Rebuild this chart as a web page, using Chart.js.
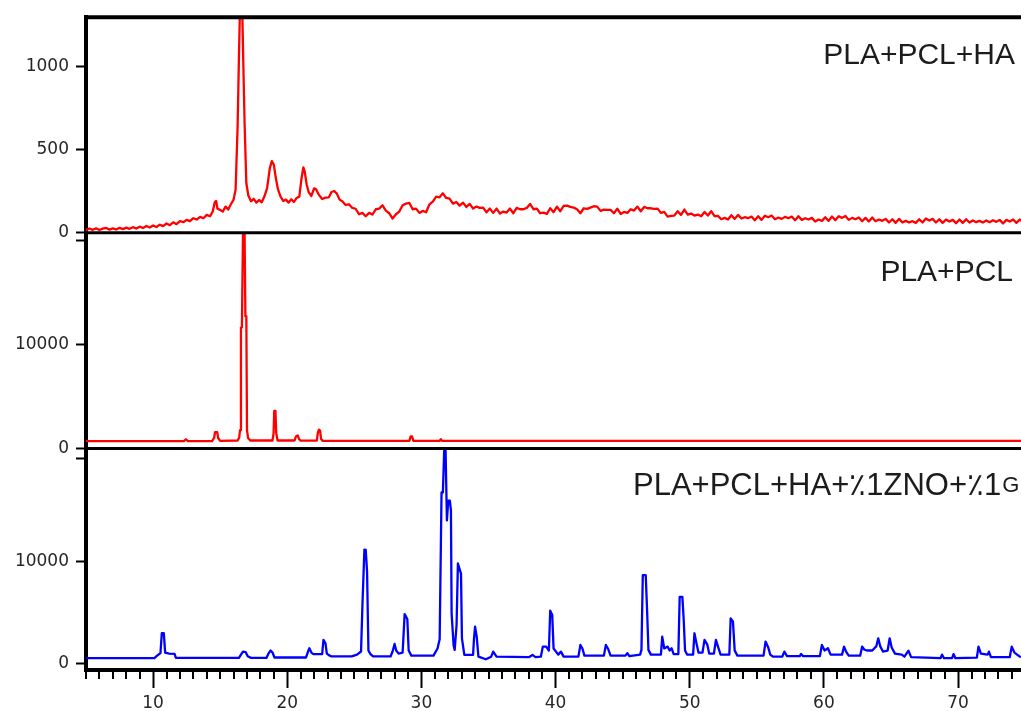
<!DOCTYPE html>
<html>
<head>
<meta charset="utf-8">
<script src="https://cdn.jsdelivr.net/npm/chart.js@4"></script>
<style>
  html, body { margin: 0; padding: 0; background: #fff; overflow: hidden; }
  #wrap { width: 1021px; height: 711px; overflow: hidden; }
  canvas { display: block; }
</style>
</head>
<body>
<div id="wrap"><canvas id="c" width="1057" height="711"></canvas></div>
<script>
// ---- Data (2θ in degrees, intensity in counts) ----
const panelLabels = ["PLA+PCL+HA", "PLA+PCL", "PLA+PCL+HA+٪1ZNO+٪1"];
const panelLabelTail = "Gr";
const xTickLabels = [10, 20, 30, 40, 50, 60, 70];
const topTicks = [0, 500, 1000];
const topTickLabels = [0, 500, 1000];
const midTicks = [0, 10000, 20000];
const midTickLabels = [0, 10000];
const botTicks = [0, 10000, 20000];
const botTickLabels = [0, 10000];

const topSpectrum = [
[5.0,16],[5.25,26],[5.5,18],[5.75,27],[6.0,17],[6.25,25],[6.5,29],[6.75,19],[7.0,27],[7.25,20],
[7.5,30],[7.75,22],[8.0,31],[8.25,24],[8.5,34],[8.75,26],[9.0,37],[9.25,29],[9.5,41],[9.75,32],
[10.0,44],[10.25,35],[10.5,49],[10.75,40],[11.0,56],[11.25,46],[11.5,63],[11.75,52],[12.0,70],[12.25,64],
[12.5,78],[12.75,70],[13.0,88],[13.25,80],[13.5,96],[13.75,88],[14.0,108],[14.25,100],[14.45,130],[14.6,185],
[14.7,192],[14.8,145],[15.0,138],[15.2,128],[15.4,158],[15.6,140],[15.8,172],[16.0,200],[16.15,260],[16.3,640],
[16.4,1060],[16.5,1450],[16.62,1450],[16.72,1040],[16.82,660],[16.95,300],[17.1,225],[17.3,190],[17.5,205],[17.7,182],
[17.9,198],[18.1,184],[18.3,220],[18.5,270],[18.7,390],[18.85,432],[19.0,410],[19.15,330],[19.3,265],[19.5,218],
[19.7,192],[19.9,200],[20.1,182],[20.3,202],[20.5,186],[20.7,210],[20.9,218],[21.05,320],[21.2,395],[21.3,370],
[21.45,290],[21.6,245],[21.8,222],[22.0,268],[22.15,262],[22.35,230],[22.6,204],[22.85,212],[23.1,214],[23.3,246],
[23.5,252],[23.7,236],[23.9,200],[24.1,190],[24.35,168],[24.6,172],[24.85,150],[25.1,145],[25.35,112],[25.6,120],
[25.85,100],[26.1,120],[26.35,110],[26.6,142],[26.85,146],[27.1,166],[27.35,134],[27.6,118],[27.85,86],[28.1,112],
[28.35,128],[28.6,166],[28.85,176],[29.1,180],[29.35,142],[29.6,146],[29.85,120],[30.1,132],[30.35,124],[30.6,172],
[30.85,188],[31.1,218],[31.35,214],[31.6,238],[31.85,210],[32.1,206],[32.35,176],[32.6,186],[32.85,164],[33.1,182],
[33.35,156],[33.6,174],[33.85,146],[34.1,158],[34.35,150],[34.6,152],[34.85,124],[35.1,146],[35.35,120],[35.6,146],
[35.85,116],[36.1,128],[36.35,122],[36.6,146],[36.85,118],[37.1,150],[37.35,142],[37.6,142],[37.85,150],[38.1,174],
[38.35,142],[38.6,146],[38.85,118],[39.1,122],[39.35,114],[39.6,148],[39.85,124],[40.1,158],[40.35,130],[40.6,162],
[40.85,164],[41.1,156],[41.35,152],[41.6,142],[41.85,118],[42.1,148],[42.35,144],[42.6,152],[42.85,160],[43.1,158],
[43.35,132],[43.6,140],[43.85,138],[44.1,138],[44.35,118],[44.6,146],[44.85,114],[45.1,126],[45.35,120],[45.6,142],
[45.85,134],[46.1,158],[46.35,130],[46.6,156],[46.85,148],[47.1,148],[47.35,144],[47.6,146],[47.85,120],[48.1,126],
[48.35,98],[48.6,102],[48.85,104],[49.1,130],[49.35,108],[49.6,140],[49.85,110],[50.1,116],[50.35,104],[50.6,110],
[50.85,100],[51.1,126],[51.35,104],[51.6,130],[51.85,100],[52.1,102],[52.35,82],[52.6,90],[52.85,80],[53.1,106],
[53.35,84],[53.6,108],[53.85,86],[54.1,94],[54.35,88],[54.6,98],[54.85,76],[55.1,100],[55.35,78],[55.6,103],
[55.85,94],[56.1,104],[56.35,82],[56.6,92],[56.85,84],[57.1,96],[57.35,88],[57.6,98],[57.85,76],[58.1,100],
[58.35,78],[58.6,88],[58.85,80],[59.1,90],[59.35,68],[59.6,80],[59.85,72],[60.1,94],[60.35,72],[60.6,98],
[60.85,76],[61.1,100],[61.35,90],[61.6,102],[61.85,78],[62.1,90],[62.35,82],[62.6,92],[62.85,70],[63.1,90],
[63.35,68],[63.6,92],[63.85,70],[64.1,80],[64.35,72],[64.6,84],[64.85,62],[65.1,82],[65.35,60],[65.6,84],
[65.85,62],[66.1,72],[66.35,62],[66.6,70],[66.85,60],[67.1,82],[67.35,62],[67.6,86],[67.85,74],[68.1,84],
[68.35,62],[68.6,82],[68.85,60],[69.1,80],[69.35,68],[69.6,78],[69.85,58],[70.1,80],[70.35,60],[70.6,82],
[70.85,62],[71.1,74],[71.35,64],[71.6,72],[71.85,62],[72.1,74],[72.35,64],[72.6,76],[72.85,66],[73.1,78],
[73.35,56],[73.6,78],[73.85,68],[74.1,80],[74.35,60],[74.6,80],[74.85,64],[75.1,78],[75.5,66],[76.0,76],
[76.5,64],[77.0,72]
];

const midSpectrum = [
[5,700],[12.3,700],[12.45,880],[12.6,700],[14.4,700],[14.55,1000],[14.62,1550],[14.78,1550],[14.85,1000],[15.0,720],
[16.3,760],[16.42,1050],[16.48,1750],[16.55,11600],[16.62,11600],[16.7,20600],[16.82,20600],[16.88,12700],[16.95,12700],[17.0,1750],
[17.08,1000],[17.25,760],[18.9,760],[18.98,1450],[19.03,3600],[19.12,3600],[19.18,1450],[19.28,760],[20.55,760],[20.65,1150],
[20.78,1250],[20.88,900],[21.0,740],[22.2,740],[22.28,1500],[22.36,1800],[22.45,1700],[22.52,900],[22.65,720],[29.1,720],
[29.2,1150],[29.3,1150],[29.4,720],[31.35,720],[31.45,880],[31.55,720],[77,720]
];

const botSpectrum = [
[5,550],[10.1,560],[10.3,800],[10.55,1050],[10.65,2980],[10.8,2980],[10.9,1100],[11.2,1000],[11.6,980],[11.7,580],
[16.4,580],[16.55,900],[16.7,1200],[16.9,1150],[17.05,750],[17.3,580],[18.45,580],[18.6,1000],[18.75,1300],[18.9,1100],
[19.05,620],[21.4,620],[21.55,1200],[21.65,1520],[21.8,1100],[21.95,950],[22.6,950],[22.7,2330],[22.85,2000],[22.95,1000],
[23.1,850],[23.3,720],[24.8,720],[25.2,900],[25.5,1200],[25.6,5560],[25.75,11130],[25.85,11100],[25.95,8960],[26.05,1300],
[26.2,950],[26.4,720],[27.7,720],[27.85,1200],[28.0,1940],[28.12,1300],[28.3,1000],[28.6,1100],[28.75,4850],[28.95,4370],
[29.05,1300],[29.25,800],[30.9,800],[31.2,1500],[31.36,2400],[31.5,16700],[31.6,16700],[31.7,20900],[31.8,20900],[31.9,13980],
[32.0,15900],[32.12,15900],[32.2,14950],[32.25,4920],[32.4,1800],[32.48,1360],[32.62,3790],[32.72,9780],[32.95,8800],[33.02,2490],
[33.2,870],[33.85,870],[33.92,2490],[34.0,3620],[34.12,2650],[34.25,710],[34.8,450],[35.2,700],[35.35,1190],[35.6,700],
[38.0,650],[38.28,870],[38.5,650],[38.9,700],[39.05,1680],[39.3,1680],[39.5,1300],[39.6,5180],[39.75,4760],[39.85,1500],
[40.2,900],[40.4,1190],[40.6,700],[41.7,700],[41.85,1840],[42.0,1500],[42.15,800],[43.6,800],[43.75,1840],[43.9,1500],
[44.1,800],[45.2,800],[45.35,1040],[45.5,750],[46.3,900],[46.4,1360],[46.5,8640],[46.72,8640],[46.82,5240],[46.92,1360],
[47.1,900],[47.85,900],[47.95,2650],[48.1,1500],[48.35,1680],[48.5,1300],[48.65,1520],[48.8,950],[49.15,950],[49.25,6530],
[49.45,6530],[49.55,4270],[49.65,1300],[49.8,900],[50.25,900],[50.35,2980],[50.5,2000],[50.65,1100],[50.95,1100],[51.1,2330],
[51.3,1900],[51.45,1000],[51.8,1000],[51.95,2330],[52.1,1700],[52.3,900],[52.95,900],[53.05,4440],[53.22,4110],[53.35,1300],
[53.55,800],[55.5,800],[55.65,2170],[55.85,1600],[56.0,900],[56.2,700],[56.9,700],[57.05,1190],[57.25,750],[58.2,750],
[58.3,970],[58.45,750],[59.7,750],[59.85,1840],[60.05,1300],[60.3,1520],[60.5,900],[61.35,900],[61.5,1680],[61.65,1200],
[61.85,800],[62.7,800],[62.85,1680],[63.0,1400],[63.2,1300],[63.6,1300],[63.9,1700],[64.05,2490],[64.2,1700],[64.4,1200],
[64.75,1300],[64.9,2490],[65.05,1600],[65.3,1000],[65.8,900],[66.0,700],[66.3,1290],[66.5,650],[68.7,550],[68.8,900],
[68.95,550],[69.55,550],[69.66,950],[69.8,550],[71.4,600],[71.52,1680],[71.7,1000],[72.2,900],[72.3,1190],[72.45,650],
[73.85,650],[74.0,1680],[74.2,1100],[74.6,700],[77,650]
];

const toPoints = arr => arr.map(p => ({x: p[0], y: p[1]}));

const tickFont = {family: "'DejaVu Sans', sans-serif", size: 17};
const tickColor = '#262626';

function yAxis(min, max, tickValues, labelValues, weight, stackWeight) {
  return {
    type: 'linear', position: 'left', stack: 'panels', stackWeight: stackWeight, weight: weight,
    min: min, max: max,
    border: {display: true, color: '#000', width: 4},
    grid: {drawOnChartArea: false, drawTicks: true, tickLength: 10, tickWidth: 2, tickColor: '#000'},
    ticks: {
      autoSkip: false, padding: 7, color: tickColor, font: tickFont,
      callback: v => labelValues.includes(v) ? String(v) : ''
    },
    afterBuildTicks: s => { s.ticks = tickValues.map(v => ({value: v})); },
    afterFit: s => { s.width = 86; }
  };
}

const framePlugin = {
  id: 'frame',
  afterDraw(chart) {
    const {ctx, chartArea, scales} = chart;
    const xs = scales.x;
    ctx.save();
    ctx.strokeStyle = '#000';
    // minor x ticks
    ctx.lineWidth = 2;
    xs.ticks.forEach(t => {
      if (t.value % 10 !== 0) {
        const px = Math.round(xs.getPixelForValue(t.value));
        ctx.beginPath();
        ctx.moveTo(px, chartArea.bottom);
        ctx.lineTo(px, chartArea.bottom + 9);
        ctx.stroke();
      }
    });
    // top frame
    ctx.lineWidth = 4;
    ctx.beginPath();
    ctx.moveTo(chartArea.left - 2, chartArea.top);
    ctx.lineTo(chartArea.right, chartArea.top);
    ctx.stroke();
    // panel separators
    ctx.lineWidth = 3;
    [scales.yTop.bottom, scales.yMid.bottom].forEach(yy => {
      ctx.beginPath();
      ctx.moveTo(chartArea.left, yy);
      ctx.lineTo(chartArea.right, yy);
      ctx.stroke();
    });
    // panel labels
    ctx.fillStyle = '#1c1c1c';
    ctx.textBaseline = 'alphabetic';
    ctx.font = "30px 'Liberation Sans', Arial, sans-serif";
    ctx.textAlign = 'right';
    ctx.fillText(panelLabels[0], chartArea.left + 929, scales.yTop.top + 47);
    ctx.fillText(panelLabels[1], chartArea.left + 927, scales.yMid.top + 48);
    ctx.textAlign = 'left';
    ctx.font = "31px 'Liberation Sans', Arial, sans-serif";
    const bx = chartArea.left + 547, by = scales.yBot.top + 47;
    ctx.fillText(panelLabels[2], bx, by);
    const w = ctx.measureText(panelLabels[2]).width;
    ctx.font = "22px 'Liberation Sans', Arial, sans-serif";
    ctx.fillText(panelLabelTail, bx + w + 1, by - 3);
    ctx.restore();
  }
};

const lineStyle = {pointRadius: 0, borderWidth: 2.3, tension: 0, borderJoinStyle: 'round', fill: false};

new Chart(document.getElementById('c'), {
  type: 'line',
  data: {
    datasets: [
      Object.assign({label: panelLabels[0], data: toPoints(topSpectrum), yAxisID: 'yTop', borderColor: '#ff0000'}, lineStyle),
      Object.assign({label: panelLabels[1], data: toPoints(midSpectrum), yAxisID: 'yMid', borderColor: '#ff0000'}, lineStyle),
      Object.assign({label: panelLabels[2] + panelLabelTail, data: toPoints(botSpectrum), yAxisID: 'yBot', borderColor: '#0000ff'}, lineStyle)
    ]
  },
  options: {
    responsive: false,
    animation: false,
    devicePixelRatio: 1,
    layout: {padding: {top: 16, left: 0, right: 0, bottom: 0}},
    plugins: {legend: {display: false}, tooltip: {enabled: false}, title: {display: false}},
    scales: {
      x: {
        type: 'linear', min: 5, max: 77,
        border: {display: true, color: '#000', width: 4},
        grid: {
          drawOnChartArea: false, drawTicks: true, tickLength: 18, tickWidth: 2,
          tickColor: c => (c.tick && c.tick.value % 10 === 0) ? '#000' : 'rgba(0,0,0,0)'
        },
        ticks: {
          stepSize: 1, autoSkip: false, includeBounds: false, maxRotation: 0, padding: 5,
          color: tickColor, font: tickFont,
          callback: v => xTickLabels.includes(v) ? String(v) : ''
        },
        afterFit: s => { s.height = 41; }
      },
      yBot: yAxis(-600, 21000, botTicks, botTickLabels, 1, 222),
      yMid: yAxis(0, 20700, midTicks, midTickLabels, 2, 216),
      yTop: yAxis(0, 1300, topTicks, topTickLabels, 3, 216)
    }
  },
  plugins: [framePlugin]
});
</script>
</body>
</html>
